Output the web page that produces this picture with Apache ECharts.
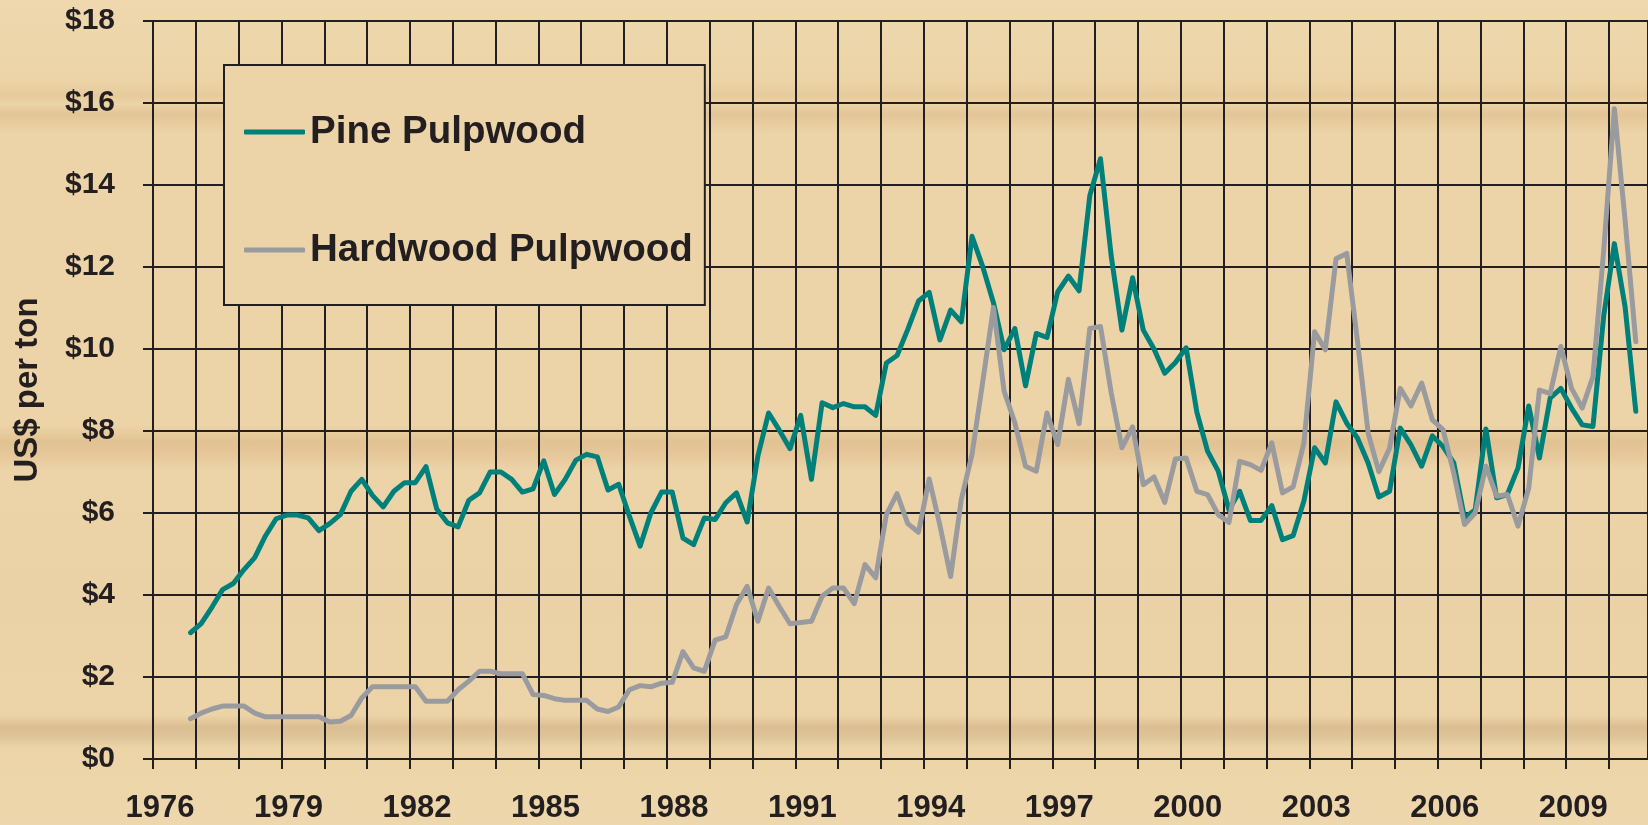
<!DOCTYPE html>
<html lang="en">
<head>
    <meta charset="UTF-8">
    <title>Pine and Hardwood Pulpwood Prices</title>
    <script src="https://cdn.jsdelivr.net/npm/echarts@6/dist/echarts.min.js"></script>
    <style>
        html, body { margin: 0; padding: 0; }
        #main {
            width: 1648px;
            height: 825px;
            /* light wood background with a few darker streaks */
            background: linear-gradient(to bottom,
                #efd8ae 0px, #ecd4a8 80px, #e6ca9c 96px, #ecd4a8 104px,
                #e3c597 114px, #e8cda0 124px, #ecd4a8 134px,
                #ecd4a8 425px, #e2c292 442px, #e6c89b 456px, #ecd4a8 470px,
                #ebd2a6 600px, #ecd4a8 715px, #dbbe92 727px, #dfc49a 737px,
                #ecd4a8 748px, #eed7ac 825px);
        }
    </style>
</head>
<body>
<div id="main"></div>

<script>
    // quarterly prices, 1976 Q4 .. 2010 Q3 (US$ per ton)
    var pine = [
        3.08, 3.30, 3.70, 4.13, 4.28, 4.62, 4.91, 5.44, 5.86, 5.95,
        5.95, 5.88, 5.57, 5.74, 5.96, 6.53, 6.82, 6.43, 6.15, 6.53,
        6.74, 6.74, 7.13, 6.10, 5.76, 5.66, 6.31, 6.49, 7.00, 7.00,
        6.82, 6.51, 6.59, 7.27, 6.45, 6.82, 7.29, 7.43, 7.37, 6.56,
        6.70, 5.92, 5.19, 6.00, 6.51, 6.51, 5.39, 5.23, 5.88, 5.84,
        6.25, 6.49, 5.78, 7.39, 8.44, 8.02, 7.57, 8.38, 6.82, 8.69,
        8.57, 8.67, 8.59, 8.59, 8.38, 9.66, 9.84, 10.48, 11.17, 11.38,
        10.22, 10.95, 10.66, 12.75, 12.01, 11.13, 9.98, 10.50, 9.10, 10.38,
        10.28, 11.39, 11.78, 11.42, 13.74, 14.64, 12.27, 10.46, 11.74, 10.46,
        10.00, 9.41, 9.67, 10.03, 8.46, 7.51, 7.02, 6.08, 6.53, 5.82,
        5.82, 6.18, 5.35, 5.45, 6.29, 7.59, 7.22, 8.71, 8.19, 7.83,
        7.22, 6.39, 6.53, 8.07, 7.66, 7.14, 7.88, 7.62, 7.22, 5.88,
        6.08, 8.05, 6.37, 6.45, 7.10, 8.61, 7.34, 8.80, 9.04, 8.56,
        8.15, 8.11, 10.80, 12.57, 11.03, 8.48
    ];
    var hardwood = [
        0.98, 1.12, 1.22, 1.29, 1.29, 1.29, 1.12, 1.03, 1.03, 1.03,
        1.03, 1.03, 1.03, 0.90, 0.92, 1.06, 1.49, 1.76, 1.76, 1.76,
        1.76, 1.76, 1.41, 1.41, 1.41, 1.69, 1.90, 2.14, 2.14, 2.08,
        2.08, 2.08, 1.57, 1.55, 1.47, 1.43, 1.43, 1.43, 1.22, 1.16,
        1.27, 1.69, 1.79, 1.76, 1.85, 1.87, 2.62, 2.22, 2.14, 2.90,
        2.98, 3.77, 4.21, 3.36, 4.17, 3.72, 3.30, 3.33, 3.36, 3.97,
        4.17, 4.17, 3.79, 4.74, 4.42, 5.96, 6.47, 5.74, 5.53, 6.83,
        5.70, 4.45, 6.33, 7.43, 9.20, 11.01, 8.97, 8.20, 7.14, 7.02,
        8.44, 7.67, 9.26, 8.18, 10.50, 10.55, 8.93, 7.59, 8.10, 6.69,
        6.88, 6.26, 7.32, 7.34, 6.53, 6.45, 5.96, 5.77, 7.26, 7.18,
        7.04, 7.71, 6.49, 6.64, 7.71, 10.42, 9.98, 12.20, 12.33, 10.20,
        7.95, 7.01, 7.58, 9.04, 8.61, 9.17, 8.27, 8.03, 6.97, 5.72,
        6.00, 7.14, 6.41, 6.45, 5.68, 6.61, 9.00, 8.91, 10.06, 9.04,
        8.56, 9.33, 12.40, 15.86, 13.14, 10.18
    ];
    var seriesNames = ['Pine Pulpwood', 'Hardwood Pulpwood'];
    var yTicks = [0, 2, 4, 6, 8, 10, 12, 14, 16, 18];
    var yearLabels = [1976, 1979, 1982, 1985, 1988, 1991, 1994, 1997, 2000, 2003, 2006, 2009];

    // quarter categories, e.g. "1976 Q4"
    var quarters = [];
    for (var y = 1976, q = 4; quarters.length < pine.length; q++) {
        if (q > 4) { q = 1; y++; }
        quarters.push(y + ' Q' + q);
    }

    // place each quarter in the middle of its slot on the year axis
    function quarterPos(label) {
        var parts = label.split(' Q');
        return Number(parts[0]) + (Number(parts[1]) - 0.5) / 4;
    }

    function pairs(values) {
        return values.map(function (v, i) {
            return [quarterPos(quarters[i]), v];
        });
    }

    var ink = '#231f20';
    var font = '"Liberation Sans", Arial, sans-serif';

    var myChart = echarts.init(document.getElementById('main'), null, {renderer: 'canvas'});

    var option = {
        animation: false,
        backgroundColor: 'transparent',
        textStyle: {fontFamily: font},
        grid: {left: 153, top: 21, right: 0, bottom: 66, containLabel: false},
        legend: {
            data: seriesNames,
            orient: 'vertical',
            left: 224,
            top: 65,
            padding: [47, 12, 35, 20],
            itemGap: 78,
            itemWidth: 61,
            itemHeight: 5,
            icon: 'roundRect',
            backgroundColor: '#ecd4a8',
            borderColor: ink,
            borderWidth: 2,
            borderRadius: 0,
            selectedMode: false,
            textStyle: {
                fontSize: 38.5,
                fontWeight: 'bold',
                color: ink,
                fontFamily: font,
                lineHeight: 40
            }
        },
        xAxis: {
            type: 'value',
            min: 1976,
            max: 2010.91,
            interval: 1,
            axisLine: {show: true, lineStyle: {color: ink, width: 2}},
            axisTick: {show: true, length: 10, lineStyle: {color: ink, width: 2}},
            splitLine: {show: true, lineStyle: {color: ink, width: 2}},
            axisLabel: {
                show: true,
                margin: 34,
                fontSize: 31,
                fontWeight: 'bold',
                color: ink,
                padding: [0, 0, 0, 14],
                showMinLabel: true,
                showMaxLabel: false,
                formatter: function (v) {
                    return yearLabels.indexOf(v) >= 0 ? String(v) : '';
                }
            }
        },
        yAxis: {
            type: 'value',
            min: yTicks[0],
            max: yTicks[yTicks.length - 1],
            interval: 2,
            name: 'US$ per ton',
            nameLocation: 'middle',
            nameGap: 109,
            nameRotate: 90,
            nameTextStyle: {fontSize: 33, fontWeight: 'bold', color: ink},
            axisLine: {show: true, lineStyle: {color: ink, width: 2}},
            axisTick: {show: true, length: 10, lineStyle: {color: ink, width: 2}},
            splitLine: {show: true, lineStyle: {color: ink, width: 2}},
            axisLabel: {
                margin: 38,
                fontSize: 30,
                fontWeight: 'bold',
                color: ink,
                padding: [8, 0, 0, 0],
                formatter: function (v) { return '$' + v; }
            }
        },
        series: [
            {
                name: seriesNames[0],
                type: 'line',
                data: pairs(pine),
                showSymbol: false,
                color: '#00807a',
                lineStyle: {width: 5, color: '#00807a', join: 'round', cap: 'round'}
            },
            {
                name: seriesNames[1],
                type: 'line',
                data: pairs(hardwood),
                showSymbol: false,
                color: '#9a9b9f',
                lineStyle: {width: 5, color: '#9a9b9f', join: 'round', cap: 'round'}
            }
        ]
    };

    myChart.setOption(option);
</script>
</body>
</html>
